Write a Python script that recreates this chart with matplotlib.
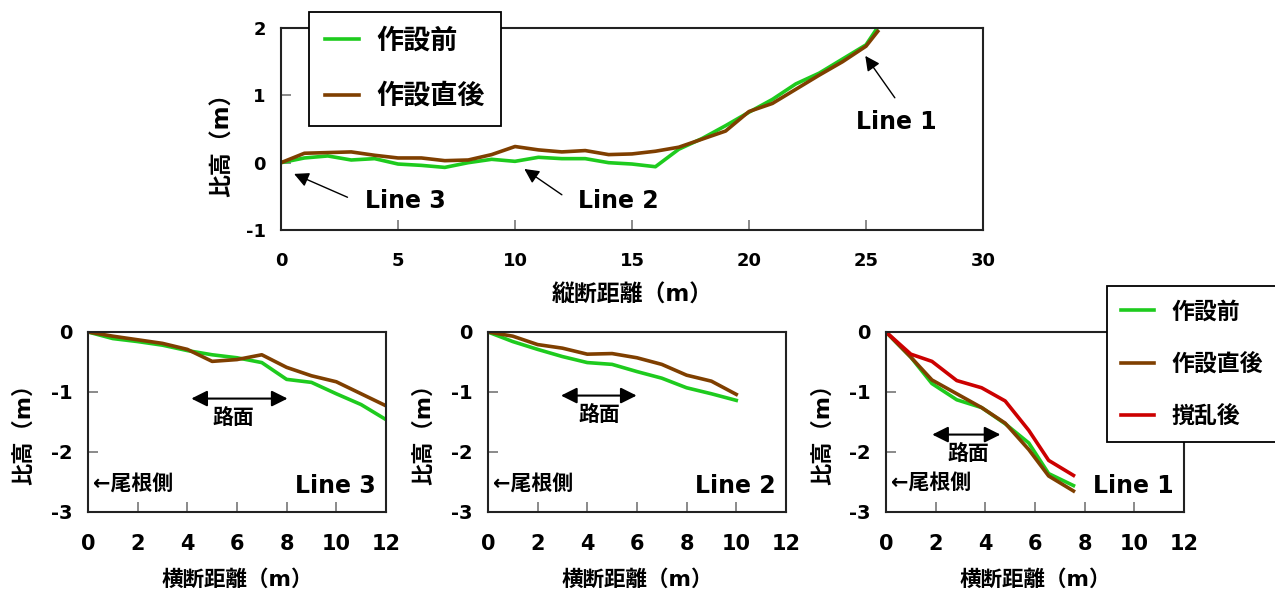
import matplotlib
matplotlib.use('Agg')
import matplotlib.pyplot as plt

plt.rcParams['font.family'] = ['DejaVu Sans', 'Noto Sans CJK JP']
plt.rcParams['font.weight'] = 'bold'
plt.rcParams['axes.unicode_minus'] = False

# 縦断 (top)
top_x = [0, 1, 2, 3, 4, 5, 6, 7, 8, 9, 10, 11, 12, 13, 14, 15, 16, 17, 18, 19, 20, 21, 22, 23, 24, 25, 25.5]
top_before = [0, 0.07, 0.10, 0.04, 0.06, -0.02, -0.04, -0.07, 0.00, 0.05, 0.02, 0.08, 0.06, 0.06, 0.00,
              -0.02, -0.06, 0.20, 0.36, 0.55, 0.75, 0.94, 1.17, 1.33, 1.54, 1.75, 2.01]
top_after = [0, 0.14, 0.15, 0.16, 0.11, 0.07, 0.07, 0.03, 0.04, 0.12, 0.24, 0.19, 0.16, 0.18, 0.12,
             0.13, 0.17, 0.23, 0.35, 0.47, 0.76, 0.88, 1.09, 1.30, 1.50, 1.73, 1.95]

# 横断 Line 3
l3_x = [0, 1, 2, 3, 4, 5, 6, 7, 8, 9, 10, 11, 12]
l3_before = [0, -0.11, -0.16, -0.22, -0.31, -0.38, -0.43, -0.51, -0.79, -0.84, -1.03, -1.21, -1.46]
l3_after = [0, -0.07, -0.13, -0.19, -0.29, -0.49, -0.46, -0.38, -0.59, -0.73, -0.83, -1.03, -1.23]

# 横断 Line 2
l2_x = [0, 1, 2, 3, 4, 5, 6, 7, 8, 9, 10]
l2_before = [0, -0.16, -0.29, -0.41, -0.51, -0.54, -0.66, -0.77, -0.93, -1.03, -1.14]
l2_after = [0, -0.07, -0.21, -0.27, -0.37, -0.36, -0.43, -0.54, -0.72, -0.82, -1.04]

# 横断 Line 1
l1_x = [0, 1.0, 1.85, 2.85, 3.85, 4.8, 5.75, 6.55, 7.55]
l1_before = [0, -0.42, -0.86, -1.13, -1.26, -1.53, -1.85, -2.36, -2.56]
l1_after = [0, -0.42, -0.80, -1.03, -1.26, -1.52, -1.96, -2.40, -2.65]
l1_dist = [0, -0.37, -0.49, -0.81, -0.93, -1.15, -1.64, -2.14, -2.39]

GREEN = '#1ecb1e'
BROWN = '#7f3f00'
RED = '#cc0000'
LW = 2.6

fig = plt.figure(figsize=(12.75, 5.91), dpi=100)


def style_axes(ax, xfs, yfs, xpad, ypad):
    for s in ax.spines.values():
        s.set_linewidth(1.5)
        s.set_color('#222222')
    ax.tick_params(direction='in', length=7, width=1.2, color='#777777')
    ax.tick_params(axis='x', labelsize=xfs, pad=xpad)
    ax.tick_params(axis='y', labelsize=yfs, pad=ypad)
    for t in ax.get_xticklabels() + ax.get_yticklabels():
        t.set_fontweight('bold')


# ---- top chart ----
ax = fig.add_axes([0.2204, 0.6108, 0.5506, 0.3418])
ax.plot(top_x, top_before, color=GREEN, lw=LW, label='作設前')
ax.plot(top_x, top_after, color=BROWN, lw=LW, label='作設直後')
ax.set_xlim(0, 30)
ax.set_ylim(-1, 2)
ax.set_xticks([0, 5, 10, 15, 20, 25, 30])
ax.set_yticks([-1, 0, 1, 2])
style_axes(ax, 13, 13, 15.5, 11)
ax.set_xlabel('縦断距離（m）', fontsize=16.5, fontweight='bold', va='center')
ax.xaxis.set_label_coords(0.5, -0.322)
ax.set_ylabel('比高（m）', fontsize=16.5, fontweight='bold', va='center')
ax.yaxis.set_label_coords(-0.084, 0.45)

arrow = dict(arrowstyle='-|>', color='black', lw=1.0, mutation_scale=22)
ax.annotate('', xy=(24.9, 1.62), xytext=(26.3, 0.93), arrowprops=arrow)
ax.text(26.3, 0.6, 'Line 1', fontsize=17, fontweight='bold', ha='center', va='center')
ax.annotate('', xy=(0.45, -0.15), xytext=(2.95, -0.53), arrowprops=arrow)
ax.text(5.3, -0.57, 'Line 3', fontsize=17, fontweight='bold', ha='center', va='center')
ax.annotate('', xy=(10.3, -0.07), xytext=(12.1, -0.5), arrowprops=arrow)
ax.text(14.4, -0.57, 'Line 2', fontsize=17, fontweight='bold', ha='center', va='center')

leg = ax.legend(loc='upper left', bbox_to_anchor=(309 / 1275, 1 - 12 / 591),
                bbox_transform=fig.transFigure, borderaxespad=0, fancybox=False,
                edgecolor='black', framealpha=1, prop={'size': 19.5, 'weight': 'bold'},
                handlelength=1.25, handletextpad=0.65, borderpad=0.6, labelspacing=1.1)
leg.get_frame().set_linewidth(1.3)

# ---- bottom charts ----
panels = [
    (0.0690, 'Line 3', [(l3_x, l3_before, GREEN, '作設前'), (l3_x, l3_after, BROWN, '作設直後')],
     (4.05, 8.15, -1.11, 5.85, -1.43), -2.55),
    (0.3827, 'Line 2', [(l2_x, l2_before, GREEN, '作設前'), (l2_x, l2_after, BROWN, '作設直後')],
     (2.83, 6.1, -1.06, 4.5, -1.38), -2.55),
    (0.6949, 'Line 1', [(l1_x, l1_before, GREEN, '作設前'), (l1_x, l1_after, BROWN, '作設直後'),
                        (l1_x, l1_dist, RED, '撹乱後')],
     (1.75, 4.72, -1.71, 3.3, -2.03), -2.52),
]

for left, name, series, road, side_y in panels:
    ax = fig.add_axes([left, 0.1337, 0.2337, 0.3046])
    for xs, ys, c, lab in series:
        ax.plot(xs, ys, color=c, lw=LW, label=lab)
    ax.set_xlim(0, 12)
    ax.set_ylim(-3, 0)
    ax.set_xticks([0, 2, 4, 6, 8, 10, 12])
    ax.set_yticks([-3, -2, -1, 0])
    style_axes(ax, 15, 14, 15.5, 11)
    ax.set_xlabel('横断距離（m）', fontsize=15.5, fontweight='bold', va='center')
    ax.xaxis.set_label_coords(0.5, -0.375)
    ax.set_ylabel('比高（m）', fontsize=16, fontweight='bold', va='center')
    ax.yaxis.set_label_coords(-0.215, 0.46)

    x0, x1, ya, xt, yt = road
    ax.annotate('', xy=(x0, ya), xytext=(x1, ya),
                arrowprops=dict(arrowstyle='<|-|>', color='black', lw=1.5, mutation_scale=24))
    ax.text(xt, yt, '路面', fontsize=15, fontweight='bold', ha='center', va='center')
    ax.text(0.2, side_y, '←尾根側', fontsize=15, fontweight='bold', ha='left', va='center')
    ax.text(11.6, -2.57, name, fontsize=17, fontweight='bold', ha='right', va='center')

    if name == 'Line 1':
        leg = ax.legend(loc='upper left', bbox_to_anchor=(1107 / 1275, 1 - 286 / 591),
                        bbox_transform=fig.transFigure, borderaxespad=0, fancybox=False,
                        edgecolor='black', framealpha=1, prop={'size': 16.5, 'weight': 'bold'},
                        handlelength=1.45, handletextpad=0.75, borderpad=0.62, labelspacing=1.28)
        leg.get_frame().set_linewidth(1.3)

fig.savefig('out.png', dpi=100)
